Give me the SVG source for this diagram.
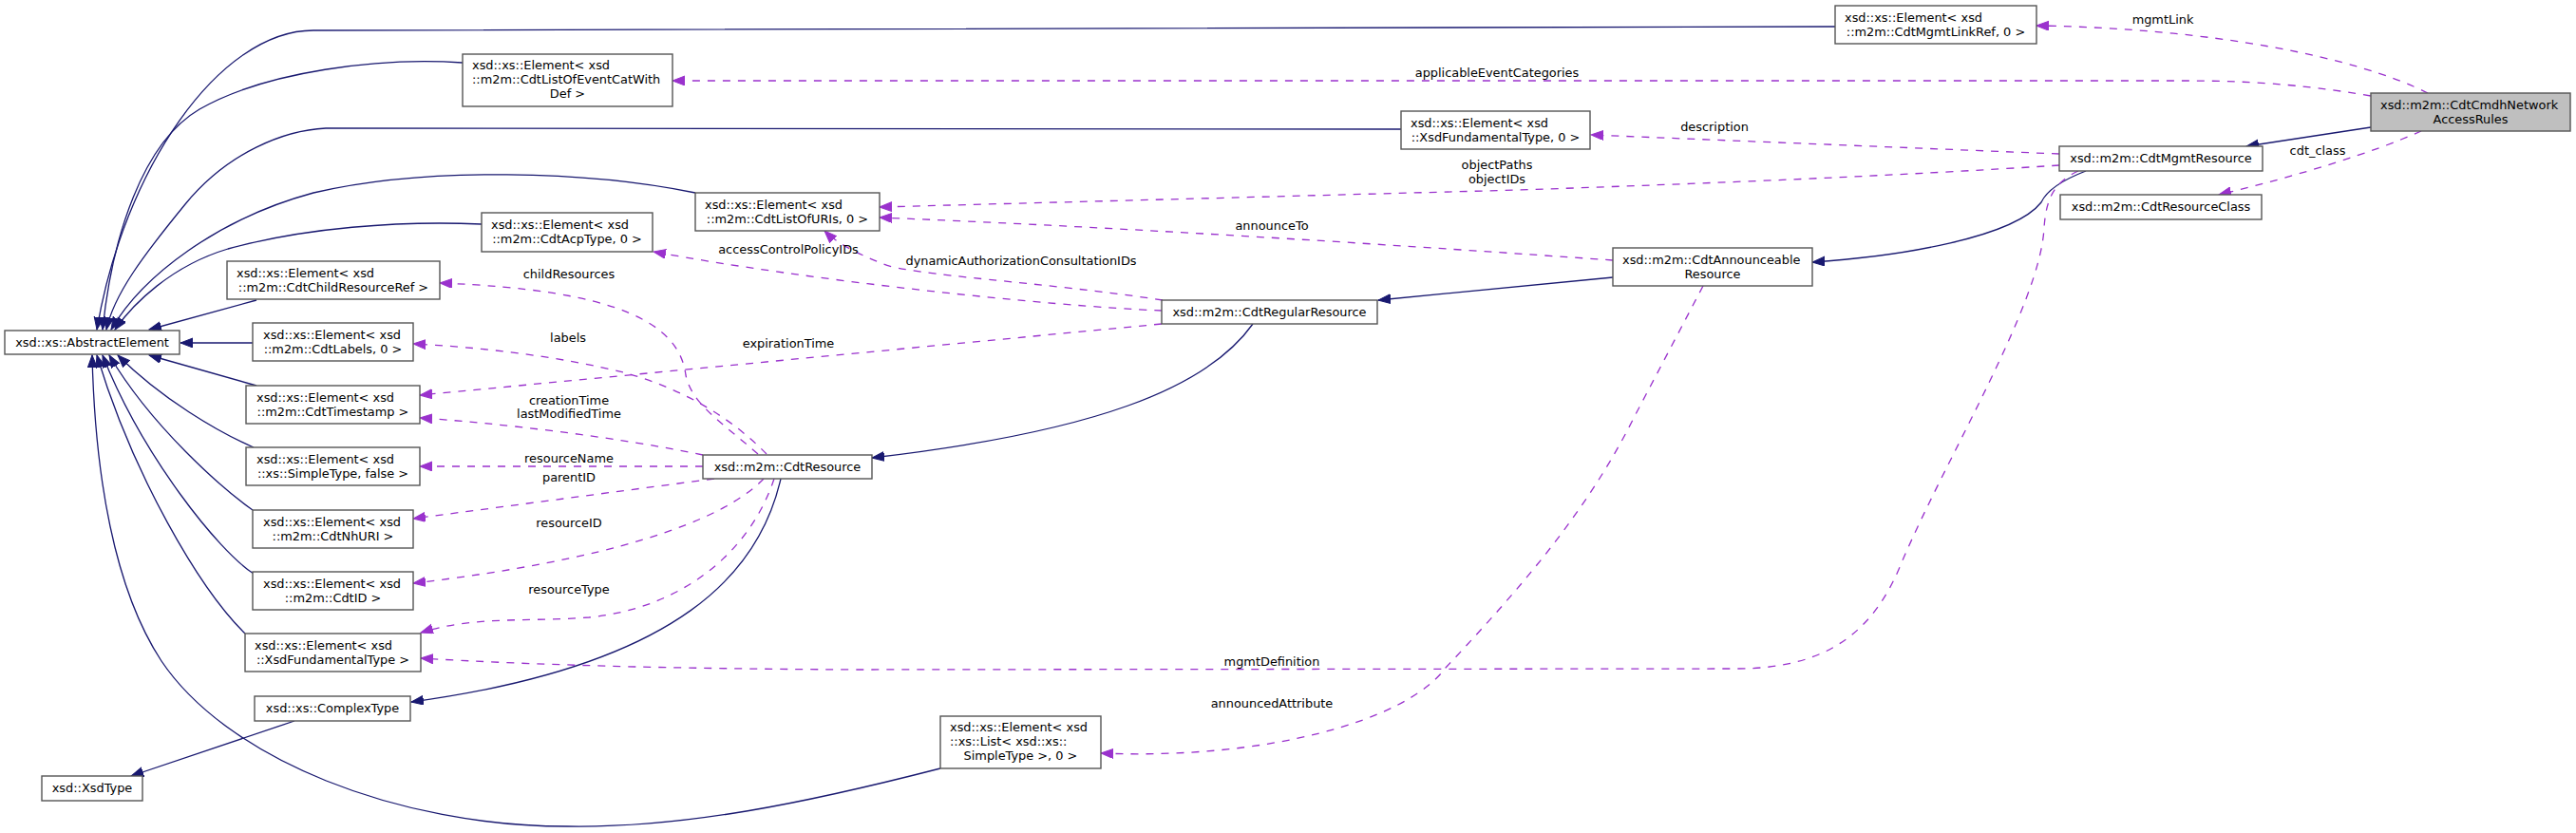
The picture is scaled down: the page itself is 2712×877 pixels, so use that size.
<svg xmlns="http://www.w3.org/2000/svg" width="2712" height="877" viewBox="0 0 2712 877">
<style>
.n rect{fill:#ffffff;stroke:#555555;stroke-width:1.4}
.n.root rect{fill:#bfbfbf}
text{font-family:"DejaVu Sans","Liberation Sans",sans-serif;font-size:12.9px;fill:#000000}
.c{text-anchor:middle}
.s{text-anchor:start}
.inh{fill:none;stroke:#191970;stroke-width:1.3;marker-end:url(#ab)}
.use{fill:none;stroke:#9a32cd;stroke-width:1.3;stroke-dasharray:8,8;marker-end:url(#ap)}
.lbl text{text-anchor:middle}
</style>
<defs>
<marker id="ab" markerUnits="userSpaceOnUse" markerWidth="14" markerHeight="12" refX="13" refY="5" orient="auto"><path d="M0,0 L13,5 L0,10 z" fill="#191970" stroke="#191970" stroke-width="1"/></marker>
<marker id="ap" markerUnits="userSpaceOnUse" markerWidth="14" markerHeight="12" refX="13" refY="5" orient="auto"><path d="M0,0 L13,5 L0,10 z" fill="#9a32cd" stroke="#9a32cd" stroke-width="1" stroke-dasharray="none"/></marker>
</defs>
<rect x="0" y="0" width="2712" height="877" fill="#ffffff"/>

<g id="connectors">
<!-- inheritance -->
<path class="inh" d="M1932,28 L330,32 C230,32 130,180 102,347"/>
<path class="inh" d="M487,66 C400,60 280,75 210,115 C150,150 118,250 108,347"/>
<path class="inh" d="M1475,136 L343,135 C300,137 240,160 195,215 C150,270 120,310 112,347"/>
<path class="inh" d="M732,203 C620,180 450,175 330,203 C230,230 150,290 117,347"/>
<path class="inh" d="M507,236 C420,232 320,240 240,262 C180,280 140,320 121,347"/>
<path class="inh" d="M270,316 L157,347"/>
<path class="inh" d="M266,361 L190,361"/>
<path class="inh" d="M270,406 L157,374"/>
<path class="inh" d="M267,471 C230,455 170,420 124,374"/>
<path class="inh" d="M266,537 C235,515 160,450 115,374"/>
<path class="inh" d="M267,604 C230,580 150,480 108,374"/>
<path class="inh" d="M258,667 C210,620 140,500 102,374"/>
<path class="inh" d="M990,809 C850,845 720,872 597,870 C420,870 240,800 170,696 C120,620 100,500 97,374"/>
<path class="inh" d="M310,759 L138,817"/>
<path class="inh" d="M822,504 C800,600 720,700 433,739"/>
<path class="inh" d="M1319,341 C1270,410 1150,455 918,482"/>
<path class="inh" d="M1698,292 L1451,316"/>
<path class="inh" d="M2196,180 C2170,190 2155,200 2149,213 C2120,250 2000,270 1908,276"/>
<path class="inh" d="M2496,134 L2365,154"/>
<!-- usage -->
<path class="use" d="M2556,98 C2480,60 2330,30 2144,27"/>
<path class="use" d="M2496,101 C2420,88 2360,85 2300,85 L708,85"/>
<path class="use" d="M2549,138 C2500,160 2420,185 2336,205"/>
<path class="use" d="M2168,162 L1675,142"/>
<path class="use" d="M2168,174 C2000,185 1800,193 1600,200 L926,218"/>
<path class="use" d="M1698,274 C1500,260 1200,240 926,229"/>
<path class="use" d="M1223,327 C1100,322 850,295 688,265"/>
<path class="use" d="M1224,316 C1100,297 960,290 930,278 C900,266 880,255 868,243"/>
<path class="use" d="M1223,341 L442,416"/>
<path class="use" d="M798,478 C760,445 728,425 722,395 C715,340 650,305 463,298"/>
<path class="use" d="M807,478 C770,440 720,410 660,393 C590,375 500,365 435,362"/>
<path class="use" d="M740,479 C650,460 520,445 442,440"/>
<path class="use" d="M740,491 L442,491"/>
<path class="use" d="M752,504 L435,546"/>
<path class="use" d="M804,504 C760,550 640,590 435,614"/>
<path class="use" d="M815,504 C790,580 720,640 620,650 C560,655 500,648 443,666"/>
<path class="use" d="M2188,180 C2162,192 2154,210 2152,240 C2148,320 2050,480 2003,590 C1975,660 1930,704 1828,704 L900,705 C700,704 560,700 443,693"/>
<path class="use" d="M1793,301 L1720,440 C1670,540 1600,620 1522,703 C1480,760 1330,800 1159,793"/>
<g class="lbl">
<text x="2277" y="25">mgmtLink</text>
<text x="1576" y="81">applicableEventCategories</text>
<text x="2440" y="163">cdt_class</text>
<text x="1805" y="138">description</text>
<text x="1576" y="178">objectPaths</text>
<text x="1576" y="193">objectIDs</text>
<text x="1339" y="242">announceTo</text>
<text x="830" y="267">accessControlPolicyIDs</text>
<text x="1075" y="279">dynamicAuthorizationConsultationIDs</text>
<text x="830" y="366">expirationTime</text>
<text x="599" y="293">childResources</text>
<text x="598" y="360">labels</text>
<text x="599" y="426">creationTime</text>
<text x="599" y="440">lastModifiedTime</text>
<text x="599" y="487">resourceName</text>
<text x="599" y="507">parentID</text>
<text x="599" y="555">resourceID</text>
<text x="599" y="625">resourceType</text>
<text x="1339" y="701">mgmtDefinition</text>
<text x="1339" y="745">announcedAttribute</text>
</g>
</g>

<g id="n_root" class="n root"><rect x="2496" y="98" width="210" height="40"/><text class="s" x="2506" y="114.5">xsd::m2m::CdtCmdhNetwork</text><text class="c" x="2601" y="129.5">AccessRules</text></g>
<g id="n_mgmtresource" class="n"><rect x="2168" y="154" width="214" height="26"/><text class="c" x="2275" y="171">xsd::m2m::CdtMgmtResource</text></g>
<g id="n_resourceclass" class="n"><rect x="2169" y="205" width="212" height="26"/><text class="c" x="2275" y="222">xsd::m2m::CdtResourceClass</text></g>
<g id="n_mgmtlinkref" class="n"><rect x="1932" y="6" width="212" height="40"/><text class="s" x="1942" y="22.5">xsd::xs::Element&lt; xsd</text><text class="c" x="2038" y="37.5">::m2m::CdtMgmtLinkRef, 0 &gt;</text></g>
<g id="n_eventcat" class="n"><rect x="487" y="57" width="221" height="55"/><text class="s" x="497" y="73">xsd::xs::Element&lt; xsd</text><text class="s" x="497" y="88">::m2m::CdtListOfEventCatWith</text><text class="c" x="597.5" y="103">Def &gt;</text></g>
<g id="n_fund0" class="n"><rect x="1475" y="117" width="199" height="40"/><text class="s" x="1485" y="133.5">xsd::xs::Element&lt; xsd</text><text class="c" x="1574.5" y="148.5">::XsdFundamentalType, 0 &gt;</text></g>
<g id="n_listofuris" class="n"><rect x="732" y="203" width="194" height="40"/><text class="s" x="742" y="219.5">xsd::xs::Element&lt; xsd</text><text class="c" x="829" y="234.5">::m2m::CdtListOfURIs, 0 &gt;</text></g>
<g id="n_acptype" class="n"><rect x="507" y="224" width="180" height="41"/><text class="s" x="517" y="241">xsd::xs::Element&lt; xsd</text><text class="c" x="597" y="256">::m2m::CdtAcpType, 0 &gt;</text></g>
<g id="n_announceable" class="n"><rect x="1698" y="261" width="210" height="40"/><text class="s" x="1708" y="277.5">xsd::m2m::CdtAnnounceable</text><text class="c" x="1803" y="292.5">Resource</text></g>
<g id="n_regular" class="n"><rect x="1223" y="316" width="227" height="25"/><text class="c" x="1336.5" y="332.5">xsd::m2m::CdtRegularResource</text></g>
<g id="n_childref" class="n"><rect x="239" y="275" width="224" height="40"/><text class="s" x="249" y="291.5">xsd::xs::Element&lt; xsd</text><text class="c" x="351" y="306.5">::m2m::CdtChildResourceRef &gt;</text></g>
<g id="n_abstract" class="n"><rect x="5" y="348" width="184" height="25"/><text class="c" x="97" y="364.5">xsd::xs::AbstractElement</text></g>
<g id="n_labels" class="n"><rect x="266" y="340" width="169" height="40"/><text class="s" x="277" y="356.5">xsd::xs::Element&lt; xsd</text><text class="c" x="350.5" y="371.5">::m2m::CdtLabels, 0 &gt;</text></g>
<g id="n_timestamp" class="n"><rect x="259" y="406" width="183" height="40"/><text class="s" x="270" y="422.5">xsd::xs::Element&lt; xsd</text><text class="c" x="350.5" y="437.5">::m2m::CdtTimestamp &gt;</text></g>
<g id="n_simple" class="n"><rect x="259" y="471" width="183" height="40"/><text class="s" x="270" y="487.5">xsd::xs::Element&lt; xsd</text><text class="c" x="350.5" y="502.5">::xs::SimpleType, false &gt;</text></g>
<g id="n_resource" class="n"><rect x="740" y="479" width="178" height="25"/><text class="c" x="829" y="495.5">xsd::m2m::CdtResource</text></g>
<g id="n_nhuri" class="n"><rect x="266" y="537" width="169" height="40"/><text class="s" x="277" y="553.5">xsd::xs::Element&lt; xsd</text><text class="c" x="350.5" y="568.5">::m2m::CdtNhURI &gt;</text></g>
<g id="n_id" class="n"><rect x="266" y="602" width="169" height="40"/><text class="s" x="277" y="618.5">xsd::xs::Element&lt; xsd</text><text class="c" x="350.5" y="633.5">::m2m::CdtID &gt;</text></g>
<g id="n_fund" class="n"><rect x="258" y="667" width="185" height="40"/><text class="s" x="268" y="683.5">xsd::xs::Element&lt; xsd</text><text class="c" x="350.5" y="698.5">::XsdFundamentalType &gt;</text></g>
<g id="n_complex" class="n"><rect x="268" y="733" width="164" height="26"/><text class="c" x="350" y="750">xsd::xs::ComplexType</text></g>
<g id="n_xsdtype" class="n"><rect x="44" y="817" width="106" height="26"/><text class="c" x="97" y="834">xsd::XsdType</text></g>
<g id="n_list" class="n"><rect x="990" y="754" width="169" height="55"/><text class="s" x="1000" y="770">xsd::xs::Element&lt; xsd</text><text class="s" x="1000" y="785">::xs::List&lt; xsd::xs::</text><text class="c" x="1074.5" y="800">SimpleType &gt;, 0 &gt;</text></g>
</svg>
